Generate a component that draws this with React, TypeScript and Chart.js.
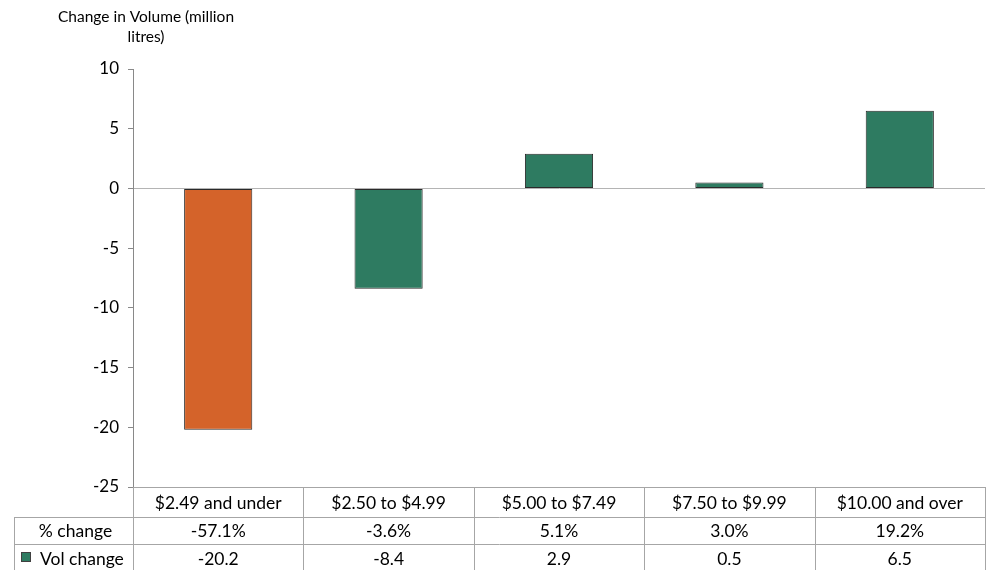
import React, { useEffect, useRef } from "react";
import { Chart, registerables } from "chart.js";

Chart.register(...registerables);

const categories = ["$2.49 and under", "$2.50 to $4.99", "$5.00 to $7.49", "$7.50 to $9.99", "$10.00 and over"];
const volChange = [-20.2, -8.4, 2.9, 0.5, 6.5];
const pctChange = ["-57.1%", "-3.6%", "5.1%", "3.0%", "19.2%"];
const volLabels = ["-20.2", "-8.4", "2.9", "0.5", "6.5"];
const barColors = ["#D4632A", "#2E7B61", "#2E7B61", "#2E7B61", "#2E7B61"];
const rowNames = ["% change", "Vol change"];
const titleLines = ["Change in Volume (million", "litres)"];

const FONT = "Lato, 'Open Sans', sans-serif";

const tablePlugin = {
  id: "tablePlugin",
  afterDraw(chart: any) {
    const { ctx, chartArea } = chart;
    const xs = chart.scales.x;
    const n = categories.length;
    const left = chartArea.left;
    const right = chartArea.right;
    const bottom = chartArea.bottom;
    const colW = (right - left) / n;
    const H = chart.height;
    const row1 = 517;
    const row2 = 544;
    const tableLeft = 14;
    ctx.save();
    ctx.strokeStyle = "#a6a6a6";
    ctx.lineWidth = 1;
    ctx.beginPath();
    ctx.moveTo(left, Math.round(bottom) + 0.5);
    ctx.lineTo(right, Math.round(bottom) + 0.5);
    ctx.moveTo(tableLeft, row1 + 0.5);
    ctx.lineTo(right, row1 + 0.5);
    ctx.moveTo(tableLeft, row2 + 0.5);
    ctx.lineTo(right, row2 + 0.5);
    ctx.moveTo(tableLeft + 0.5, row1);
    ctx.lineTo(tableLeft + 0.5, H);
    for (let i = 0; i <= n; i++) {
      const x = Math.round(left + i * colW) + 0.5;
      ctx.moveTo(x, bottom);
      ctx.lineTo(x, H);
    }
    ctx.stroke();

    ctx.fillStyle = "#000";
    ctx.font = "17.5px " + FONT;
    ctx.textAlign = "center";
    ctx.textBaseline = "middle";
    for (let i = 0; i < n; i++) {
      const cx = xs.getPixelForValue(i);
      ctx.fillText(categories[i], cx, (bottom + row1) / 2 + 1);
      ctx.fillText(pctChange[i], cx, (row1 + row2) / 2 + 1);
      ctx.fillText(volLabels[i], cx, (row2 + H) / 2 + 2);
    }
    const hc = (tableLeft + left) / 2;
    ctx.fillText(rowNames[0], hc + 2, (row1 + row2) / 2 + 1);
    ctx.textAlign = "left";
    ctx.fillText(rowNames[1], 40, (row2 + H) / 2 + 2);
    ctx.fillStyle = barColors[1];
    ctx.fillRect(21, 552, 10, 10);
    ctx.strokeStyle = "#404040";
    ctx.strokeRect(21.5, 552.5, 9, 9);

    ctx.fillStyle = "#000";
    ctx.font = "15.5px " + FONT;
    ctx.textAlign = "center";
    ctx.fillText(titleLines[0], 146, 17);
    ctx.fillText(titleLines[1], 146, 37);
    ctx.restore();
  },
};

export default function App() {
  const ref = useRef<HTMLCanvasElement | null>(null);
  useEffect(() => {
    document.body.style.margin = "0";
    const chart = new Chart(ref.current as HTMLCanvasElement, {
      type: "bar",
      data: {
        labels: categories,
        datasets: [
          {
            label: "Vol change",
            data: volChange,
            backgroundColor: barColors,
            borderColor: "#2a2a2a",
            borderWidth: 1,
            borderSkipped: false,
            categoryPercentage: 1,
            barPercentage: 0.4,
          },
        ],
      },
      options: {
        animation: false,
        responsive: false,
        maintainAspectRatio: false,
        layout: { padding: { left: 0, right: 3, top: 69, bottom: 83 } },
        plugins: { legend: { display: false }, tooltip: { enabled: false }, title: { display: false } },
        scales: {
          x: { display: false },
          y: {
            min: -25,
            max: 10,
            afterFit: (scale: any) => {
              scale.width = 133;
            },
            ticks: {
              stepSize: 5,
              color: "#000",
              font: { family: FONT, size: 17 },
              padding: 9,
            },
            grid: {
              color: (c: any) => (c.tick && c.tick.value === 0 ? "#b4b4b4" : "rgba(0,0,0,0)"),
              tickColor: "#898989",
              tickLength: 5,
              drawTicks: true,
            },
            border: { display: true, color: "#898989" },
          },
        },
      },
      plugins: [tablePlugin],
    });
    return () => chart.destroy();
  }, []);
  return (
    <div style={{ width: 988, height: 570 }}>
      <canvas ref={ref} width={988} height={570} style={{ display: "block" }} />
    </div>
  );
}
